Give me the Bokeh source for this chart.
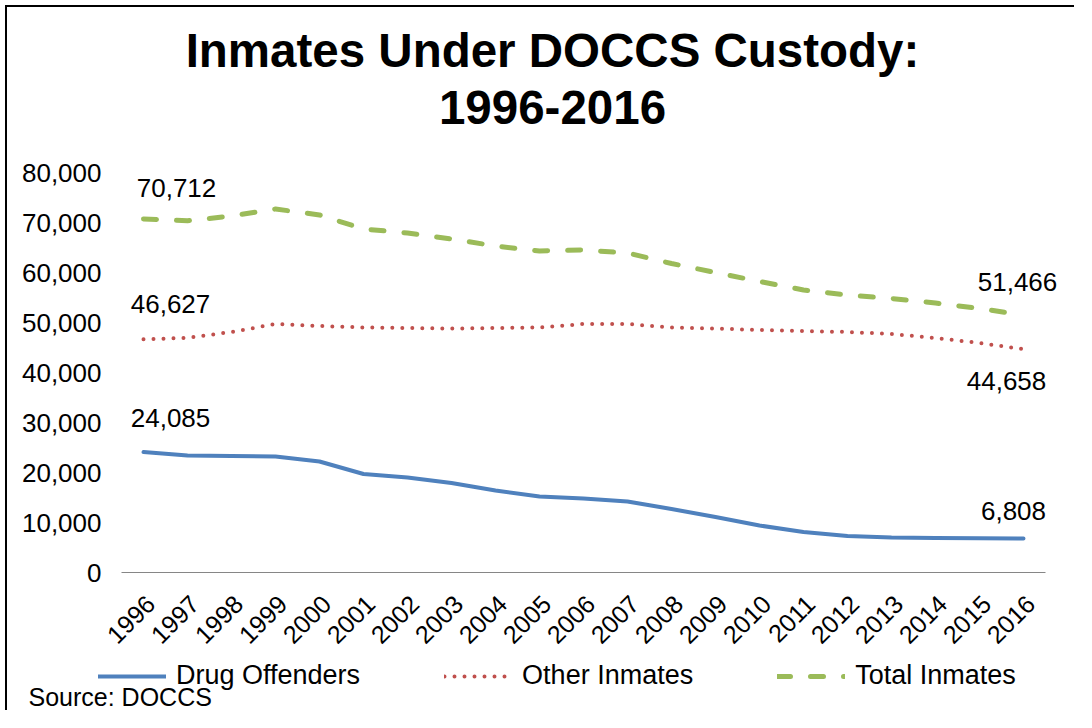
from bokeh.plotting import figure
from bokeh.models import (Range1d, FixedTicker, NumeralTickFormatter, Legend,
                          LegendItem, Label, LabelSet, ColumnDataSource)
from bokeh.core.properties import value
from bokeh.embed import file_html
from bokeh.resources import INLINE

# ---- data ----
years = [1996, 1997, 1998, 1999, 2000, 2001, 2002, 2003, 2004, 2005, 2006,
         2007, 2008, 2009, 2010, 2011, 2012, 2013, 2014, 2015, 2016]
drug_offenders = [24085, 23400, 23300, 23200, 22200, 19700, 19000, 17900, 16400,
                  15200, 14800, 14200, 12700, 11100, 9400, 8100, 7300, 7000,
                  6900, 6850, 6808]
other_inmates = [46627, 46950, 48100, 49700, 49300, 49000, 48900, 48800, 48900,
                 49000, 49700, 49700, 49000, 48800, 48500, 48300, 48100, 47700,
                 46900, 45900, 44658]
total_inmates = [70712, 70350, 71300, 72700, 71500, 68700, 67900, 66700, 65300,
                 64300, 64500, 63900, 61800, 60000, 58200, 56500, 55500, 54800,
                 53900, 52800, 51466]
y_ticks = [0, 10000, 20000, 30000, 40000, 50000, 60000, 70000, 80000]
series_names = ["Drug Offenders", "Other Inmates", "Total Inmates"]
title_lines = ["Inmates Under DOCCS Custody:", "1996-2016"]
source_note = "Source: DOCCS"

# ---- layout / styles (pixels on the canvas) ----
FONT = "Liberation Sans"
BLUE, RED, GREEN = "#4F81BD", "#C0504D", "#9BBB59"
W, H = 1069, 705
X_FIRST_PX, YEAR_PX = 136, 44          # canvas x of first category, px per category
Y0_PX, PX_PER_UNIT = 565, 1 / 200      # canvas y (from top) of value 0, px per unit
LABEL_SHIFT_PX = 7                     # tick labels sit a little right of their category

y_max_visible = 80000
x_start = years[0] - X_FIRST_PX / YEAR_PX
x_end = years[0] + (W - X_FIRST_PX) / YEAR_PX
y_start = -(H - Y0_PX) / PX_PER_UNIT
y_end = Y0_PX / PX_PER_UNIT

p = figure(width=W, height=H,
           x_range=Range1d(x_start, x_end), y_range=Range1d(y_start, y_end),
           output_backend="svg", toolbar_location=None,
           min_border_left=0, min_border_right=0,
           min_border_top=0, min_border_bottom=0)
p.styles = {"border-left": "2px solid black", "border-top": "2px solid black",
            "margin-left": "5px", "margin-top": "5px"}
p.outline_line_color = None
p.xgrid.visible = False
p.ygrid.visible = False

shift = LABEL_SHIFT_PX / YEAR_PX
p.extra_x_ranges = {"lab": Range1d(x_start - shift, x_end - shift)}

src = ColumnDataSource(dict(year=years, drug=drug_offenders,
                            other=other_inmates, total=total_inmates))
r_total = p.line("year", "total", source=src, line_color=GREEN, line_width=5,
                 line_dash="13 20", line_cap="round")
r_other = p.line("year", "other", source=src, line_color=RED, line_width=4,
                 line_dash="0 10", line_cap="round")
r_drug = p.line("year", "drug", source=src, line_color=BLUE, line_width=4,
                line_cap="round", line_join="round")

# x axis, drawn at value 0
xa = p.xaxis[0]
xa.x_range_name = "lab"
xa.fixed_location = 0
xa.bounds = (years[0] - 0.5 - shift, years[-1] + 0.5 - shift)
xa.ticker = FixedTicker(ticks=years)
xa.axis_line_color = "#868686"
xa.axis_line_width = 1
xa.major_tick_line_color = None
xa.minor_tick_line_color = None
xa.major_tick_out = 0
xa.major_label_orientation = 0.7853981633974483
xa.major_label_standoff = 27
xa.major_label_text_font = FONT
xa.major_label_text_font_size = "25px"
xa.major_label_text_color = "black"

# y axis, drawn at the left edge of the category band
ya = p.yaxis[0]
ya.fixed_location = years[0] - 0.5
ya.bounds = (0, y_max_visible)
ya.ticker = FixedTicker(ticks=y_ticks)
ya.formatter = NumeralTickFormatter(format="0,0")
ya.axis_line_color = None
ya.major_tick_line_color = None
ya.minor_tick_line_color = None
ya.major_tick_out = 0
ya.major_label_standoff = 20
ya.major_label_text_font = FONT
ya.major_label_text_font_size = "26px"
ya.major_label_text_color = "black"

# data labels: first and last value of each series
first_last = [total_inmates[0], other_inmates[0], drug_offenders[0],
              total_inmates[-1], other_inmates[-1], drug_offenders[-1]]
lab_src = ColumnDataSource(dict(
    x=[years[0]] * 3 + [years[-1]] * 3,
    y=first_last,
    text=[f"{v:,}" for v in first_last],
    xo=[33, 27, 27, -6, -17, -10],
    yo=[31, 35, 34, 33, -32, 27],
))
p.add_layout(LabelSet(x="x", y="y", text="text", source=lab_src,
                      x_offset="xo", y_offset="yo",
                      text_align="center", text_baseline="middle",
                      text_font=value(FONT), text_font_size="26px",
                      text_color="black"))

# title (screen y measured from the bottom of the canvas)
for txt, yy in zip(title_lines, [662, 605]):
    p.add_layout(Label(x=545, y=yy, x_units="screen", y_units="screen", text=txt,
                       text_align="center", text_baseline="alphabetic",
                       text_font=FONT, text_font_style="bold",
                       text_font_size="47.5px", text_color="black"))

# source note
p.add_layout(Label(x=21, y=16, x_units="screen", y_units="screen", text=source_note,
                   text_align="left", text_baseline="alphabetic",
                   text_font=FONT, text_font_size="25px", text_color="black"))

# legend
legend = Legend(items=[LegendItem(label=series_names[0], renderers=[r_drug]),
                       LegendItem(label=series_names[1], renderers=[r_other]),
                       LegendItem(label=series_names[2], renderers=[r_total])],
                location=(91, H - 684), orientation="horizontal",
                glyph_width=68, glyph_height=26, label_height=26,
                label_standoff=10, spacing=84, padding=0, margin=0,
                border_line_color=None, background_fill_alpha=0,
                label_text_font=FONT, label_text_font_size="27px",
                label_text_color="black")
p.add_layout(legend, "center")

open("out.html", "w").write(file_html(p, INLINE))
